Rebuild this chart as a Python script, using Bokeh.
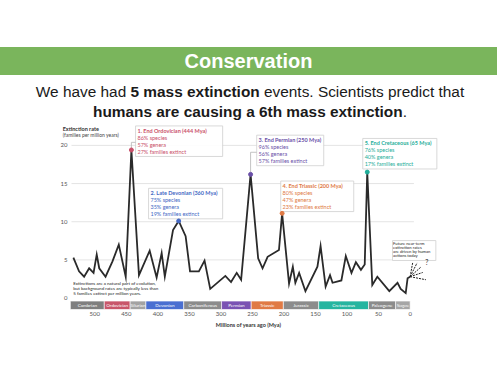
from bokeh.plotting import figure
from bokeh.models import Range1d, FixedTicker, Label, Div
from bokeh.layouts import column
from bokeh.embed import file_html
from bokeh.resources import INLINE
from bokeh.core.properties import value

# ---------------- data ----------------
mya = [534, 525, 517, 509, 502, 497, 493, 483, 472, 462, 451, 442, 430, 413, 402,
       394, 389, 376, 367, 356, 349, 335, 326, 317, 293, 284, 275, 268, 253, 241,
       234, 226, 208, 203, 192, 186, 182, 176, 166, 147, 142, 134, 127, 123, 109,
       102, 93, 86, 78, 72, 68, 60, 52, 33, 20, 15, 7, 4, 0]
rate = [5.3, 3.5, 2.8, 3.9, 3.3, 5.7, 3.9, 2.8, 4.8, 7.0, 2.8, 19.4, 3.0, 6.2, 2.7,
        5.9, 2.8, 8.9, 10.1, 8.1, 3.5, 3.5, 4.9, 1.2, 2.9, 2.1, 3.3, 2.4, 16.2, 5.2,
        3.9, 5.4, 6.3, 11.1, 1.9, 4.1, 2.0, 3.3, 0.9, 4.1, 6.8, 1.5, 3.0, 2.0, 2.3,
        5.5, 3.3, 4.7, 3.7, 4.4, 16.5, 1.7, 2.8, 0.9, 2.0, 1.2, 0.65, 2.6, 2.8]

y_ticks = [0, 5, 10, 15, 20]
x_ticks = [500, 450, 400, 350, 300, 250, 200, 150, 100, 50, 0]

periods = ["Cambrian", "Ordovician", "Silurian", "Devonian", "Carboniferous", "Permian",
           "Triassic", "Jurassic", "Cretaceous", "Paleogene", "Neogene"]
period_start = [538.8, 485, 444, 419, 359, 299, 252, 201, 145, 66, 23]
period_end = [485, 444, 419, 359, 299, 252, 201, 145, 66, 23, 0]

event_mya = [442, 367, 253, 203, 68]
event_title = ["1. End Ordovician (444 Mya)", "2. Late Devonian (360 Mya)",
               "3. End Permian (250 Mya)", "4. End Triassic (200 Mya)",
               "5. End Cretaceous (65 Mya)"]
event_species = ["86% species", "75% species", "96% species", "80% species", "76% species"]
event_genera = ["57% genera", "35% genera", "56% genera", "47% genera", "40% genera"]
event_families = ["27% families extinct", "19% families extinct", "57% families extinct",
                  "23% families extinct", "17% families extinct"]

future_end_mya = [-4, -11, -17, -20, -25]
future_end_rate = [4.6, 4.6, 4.05, 3.35, 2.4]

note_lines = ["Extinctions are a natural part of evolution,",
              "but background rates are typically less than",
              "5 families extinct per million years."]
future_lines = ["Future near-term", "extinction rates", "are driven by human", "actions today"]

# ---------------- styles / layout ----------------
FONT = "Lato"
period_colors = ["#7f7f7f", "#c8566a", "#a3a3a3", "#4a6fd1", "#8c8c8c", "#7a52b3",
                 "#e07a45", "#8c8c8c", "#25b5a0", "#8c8c8c", "#a6a6a6"]
event_colors = ["#c9506a", "#4468c4", "#6a4fa8", "#e07a45", "#1fae9a"]
# box layout: left, right, first text line y
box_left = [435.4, 414.8, 243.3, 205.2, 75.1]
box_right = [297.3, 297.3, 137.0, 89.4, -42.4]
box_first = [21.9, 13.73, 20.69, 14.68, 20.26]
LSP = 0.9
X0, X1 = 557.6, -45

header = Div(text="Conservation", width=497, height=28, margin=(47, 0, 0, 0),
             styles={"background-color": "#7ab55c", "color": "white",
                     "font-family": "'Liberation Sans', Arial, sans-serif",
                     "font-weight": "bold", "font-size": "20px",
                     "text-align": "center", "line-height": "28px"})
sub = Div(text="<div style='line-height:20px'>We have had <b>5 mass extinction</b> events. "
               "Scientists predict that<br><b>humans are causing a 6th mass extinction</b>.</div>",
          width=500, height=40, margin=(7, 0, 0, 0),
          styles={"color": "#1a1a1a", "font-family": "'Liberation Sans', Arial, sans-serif",
                  "font-size": "15.4px", "text-align": "center", "line-height": "20px"})

p = figure(width=500, height=227, x_range=Range1d(X0, X1), y_range=Range1d(-1.5, 23),
           min_border_left=58, min_border_right=62, min_border_top=0, min_border_bottom=40,
           toolbar_location=None, output_backend="svg", outline_line_color=None)
p.xgrid.grid_line_color = None
p.ygrid.grid_line_color = None

# axes
p.yaxis.ticker = FixedTicker(ticks=y_ticks)
p.xaxis.ticker = FixedTicker(ticks=x_ticks)
for ax in (p.xaxis, p.yaxis):
    ax.axis_line_color = None
    ax.major_tick_line_color = None
    ax.minor_tick_line_color = None
    ax.major_tick_out = 0
    ax.major_tick_in = 0
    ax.minor_tick_out = 0
    ax.major_label_text_font = FONT
    ax.major_label_text_font_size = "6px"
    ax.major_label_text_color = "#555555"
p.yaxis.fixed_location = 537
p.yaxis.major_label_standoff = 4
p.xaxis.major_label_standoff = 2
p.xaxis.axis_label = "Millions of years ago (Mya)"
p.xaxis.axis_label_text_font = FONT
p.xaxis.axis_label_text_font_size = "5.5px"
p.xaxis.axis_label_text_font_style = "bold"
p.xaxis.axis_label_text_color = "#333333"
p.xaxis.axis_label_standoff = 3

# gridlines (stop just after present)
p.segment(x0=[537] * 4, x1=[-6] * 4, y0=y_ticks[1:], y1=y_ticks[1:],
          line_color="#dddddd", line_width=0.8)

# period band
p.quad(left=period_start, right=period_end, top=-0.4, bottom=-1.5,
       fill_color=period_colors, line_color="white", line_width=0.6)
mids = [(a + b) / 2 for a, b in zip(period_start, period_end)]
p.text(x=mids[:-1], y=[-0.95] * (len(periods) - 1), text=periods[:-1],
       text_font=value(FONT), text_font_size="4.6px", text_color="white",
       text_align="center", text_baseline="middle")
p.text(x=[mids[-1]], y=[-0.95], text=[periods[-1]], text_font=value(FONT),
       text_font_size="3px", text_color="white", text_align="center", text_baseline="middle")

# annotation boxes
box_top = [f + 0.65 for f in box_first]
box_bot = [f - 3 * LSP - 0.65 for f in box_first]
p.quad(left=box_left, right=box_right, top=box_top, bottom=box_bot,
       fill_color="white", fill_alpha=0.9, line_color="#cfcfcf", line_width=0.8)

event_rate = [rate[mya.index(m)] for m in event_mya]
# connectors
p.line(x=[event_mya[0], event_mya[0], box_left[0]], y=[event_rate[0], 20.4, 20.4],
       line_color="#b5b5b5", line_width=0.8)
p.line(x=[event_mya[2], event_mya[2], box_left[2]], y=[event_rate[2], 19.1, 19.1],
       line_color="#b5b5b5", line_width=0.8)

for i in range(5):
    tx = box_left[i] - 3.0
    p.text(x=[tx], y=[box_first[i]], text=[event_title[i]], text_font=value(FONT),
           text_font_size="5.5px", text_font_style="bold", text_color=event_colors[i],
           text_baseline="middle")
    p.text(x=[tx] * 3, y=[box_first[i] - LSP * k for k in (1, 2, 3)],
           text=[event_species[i], event_genera[i], event_families[i]],
           text_font=value(FONT), text_font_size="5.5px", text_color=event_colors[i],
           text_baseline="middle")

# future box
p.quad(left=[27.9], right=[-40.8], top=[7.53], bottom=[4.92],
       fill_color="white", line_color="#cfcfcf", line_width=0.8)
p.text(x=[27.0] * 4, y=[7.19, 6.67, 6.1, 5.55], text=future_lines, text_font=value(FONT),
       text_font_size="4.2px", text_color="#222222", text_baseline="middle")

# bottom-left note
p.text(x=[534.3] * 3, y=[1.87, 1.24, 0.62], text=note_lines, text_font=value(FONT),
       text_font_size="4.5px", text_color="#222222", text_baseline="middle")

# extinction rate line
p.line(x=mya, y=rate, line_color="#2a2a2a", line_width=1.8, line_join="miter")
p.scatter(x=event_mya, y=event_rate, size=4, color=event_colors)

# future dashed projections
p.segment(x0=[mya[-1]] * len(future_end_mya), y0=[rate[-1]] * len(future_end_mya),
          x1=future_end_mya, y1=future_end_rate, line_color="#222222",
          line_width=1.0, line_dash="2 1")
p.text(x=[-23.8], y=[4.7], text=["?"], text_font=value(FONT), text_font_size="7px",
       text_color="#333333", text_baseline="middle")

# y-axis title
p.add_layout(Label(x=551, y=22.15, text="Extinction rate", text_font=FONT,
                   text_font_size="5.5px", text_font_style="bold", text_color="#333333",
                   text_baseline="middle"))
p.add_layout(Label(x=551, y=21.3, text="(families per million years)", text_font=FONT,
                   text_font_size="5px", text_color="#444444", text_baseline="middle"))

layout = column(header, sub, p)
open("out.html", "w").write(file_html(layout, INLINE))
